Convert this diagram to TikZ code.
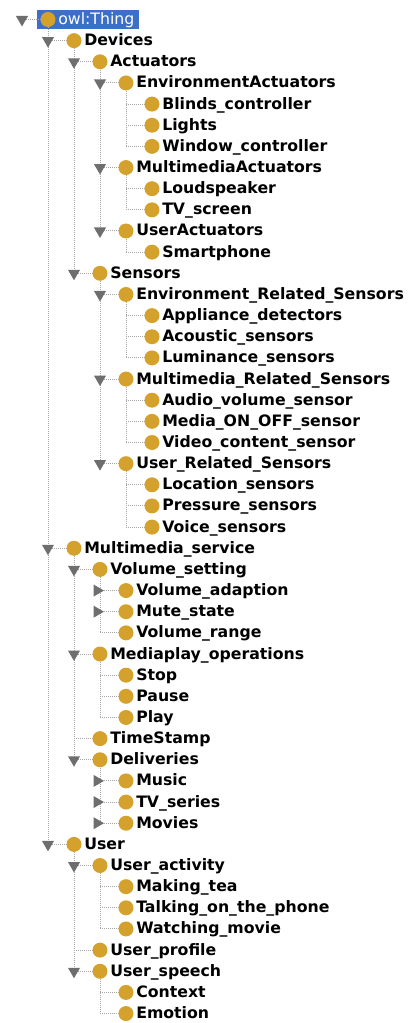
\documentclass[tikz,border=0pt]{standalone}
\usepackage{fontspec}
\setmainfont{DejaVu Sans}
\usetikzlibrary{shapes.geometric,calc,backgrounds}

\definecolor{beadgold}{HTML}{D4A22C}
\definecolor{twiggray}{HTML}{A6A6A6}
\definecolor{knobgray}{HTML}{6E6E6E}
\definecolor{selblue}{HTML}{3B6FC8}

\tikzset{
  bead/.style={circle, fill=beadgold, minimum size=11.25pt, inner sep=0pt},
  classname/.style={anchor=base west, inner sep=0pt,
    font=\fontsize{11.8pt}{14pt}\selectfont\bfseries},
  rootname/.style={anchor=base west, inner sep=0pt, text=white,
    font=\fontsize{11.8pt}{14pt}\selectfont},
  twig/.style={draw=twiggray, line width=0.75pt, dash pattern=on 0.75pt off 0.75pt},
  opened/.style={regular polygon, regular polygon sides=3, shape border rotate=180,
    fill=knobgray, minimum size=10.5pt, inner sep=0pt},
  closed/.style={regular polygon, regular polygon sides=3, shape border rotate=-90,
    fill=knobgray, minimum size=10.5pt, inner sep=0pt, xshift=-2.25pt},
  leaf/.style={inner sep=0pt, minimum size=0pt},
}

\begin{document}
\begin{tikzpicture}[x=0.75pt, y=-0.75pt]
\useasboundingbox (0,0) rectangle (408,1023);

% root of the class hierarchy
\coordinate (j0) at (22,19.5);
\node[bead] (c0) at (48,19.5) {};
\node[rootname] (t0) at (58,24.5) {owl:Thing};
\begin{scope}[on background layer]
  \fill[selblue] ($(c0.west)+(-3.5,-9.5)$) rectangle ($(t0.east |- c0)+(4,9.5)$);
  \draw[twig] (j0) -- (c0.west);
\end{scope}
\node[opened] (k0) at (j0) {};

% subclasses: level / name / expander
\foreach \lv/\nm/\kind [count=\i from 1] in {
  1/Devices/opened,
  2/Actuators/opened,
  3/EnvironmentActuators/opened,
  4/Blinds\_controller/leaf,
  4/Lights/leaf,
  4/Window\_controller/leaf,
  3/MultimediaActuators/opened,
  4/Loudspeaker/leaf,
  4/TV\_screen/leaf,
  3/UserActuators/opened,
  4/Smartphone/leaf,
  2/Sensors/opened,
  3/Environment\_Related\_Sensors/opened,
  4/Appliance\_detectors/leaf,
  4/Acoustic\_sensors/leaf,
  4/Luminance\_sensors/leaf,
  3/Multimedia\_Related\_Sensors/opened,
  4/Audio\_volume\_sensor/leaf,
  4/Media\_ON\_OFF\_sensor/leaf,
  4/Video\_content\_sensor/leaf,
  3/User\_Related\_Sensors/opened,
  4/Location\_sensors/leaf,
  4/Pressure\_sensors/leaf,
  4/Voice\_sensors/leaf,
  1/Multimedia\_service/opened,
  2/Volume\_setting/opened,
  3/Volume\_adaption/closed,
  3/Mute\_state/closed,
  3/Volume\_range/leaf,
  2/Mediaplay\_operations/opened,
  3/Stop/leaf,
  3/Pause/leaf,
  3/Play/leaf,
  2/TimeStamp/leaf,
  2/Deliveries/opened,
  3/Music/closed,
  3/TV\_series/closed,
  3/Movies/closed,
  1/User/opened,
  2/User\_activity/opened,
  3/Making\_tea/leaf,
  3/Talking\_on\_the\_phone/leaf,
  3/Watching\_movie/leaf,
  2/User\_profile/leaf,
  2/User\_speech/opened,
  3/Context/leaf,
  3/Emotion/leaf} {
  \pgfmathsetmacro\yy{19.5+21.15*\i}
  \pgfmathsetmacro\xx{48+26*\lv}
  \coordinate (j\i) at (\xx-26,\yy);
  \node[bead] (c\i) at (\xx,\yy) {};
  \node[classname] (t\i) at (\xx+10,\yy+5) {\nm};
  \begin{scope}[on background layer]
    \draw[twig] (j\i) -- (c\i.west);
  \end{scope}
  \node[\kind] (k\i) at (j\i) {};
}

% vertical guides from each expanded class to its last child
\begin{scope}[on background layer]
  \foreach \p/\q in {0/39, 1/12, 2/10, 3/6, 7/9, 10/11, 12/21, 13/16, 17/20,
                     21/24, 25/35, 26/29, 30/33, 35/38, 39/45, 40/43, 45/47}
    \draw[twig] (c\p.south) -- (j\q);
\end{scope}
\end{tikzpicture}
\end{document}
